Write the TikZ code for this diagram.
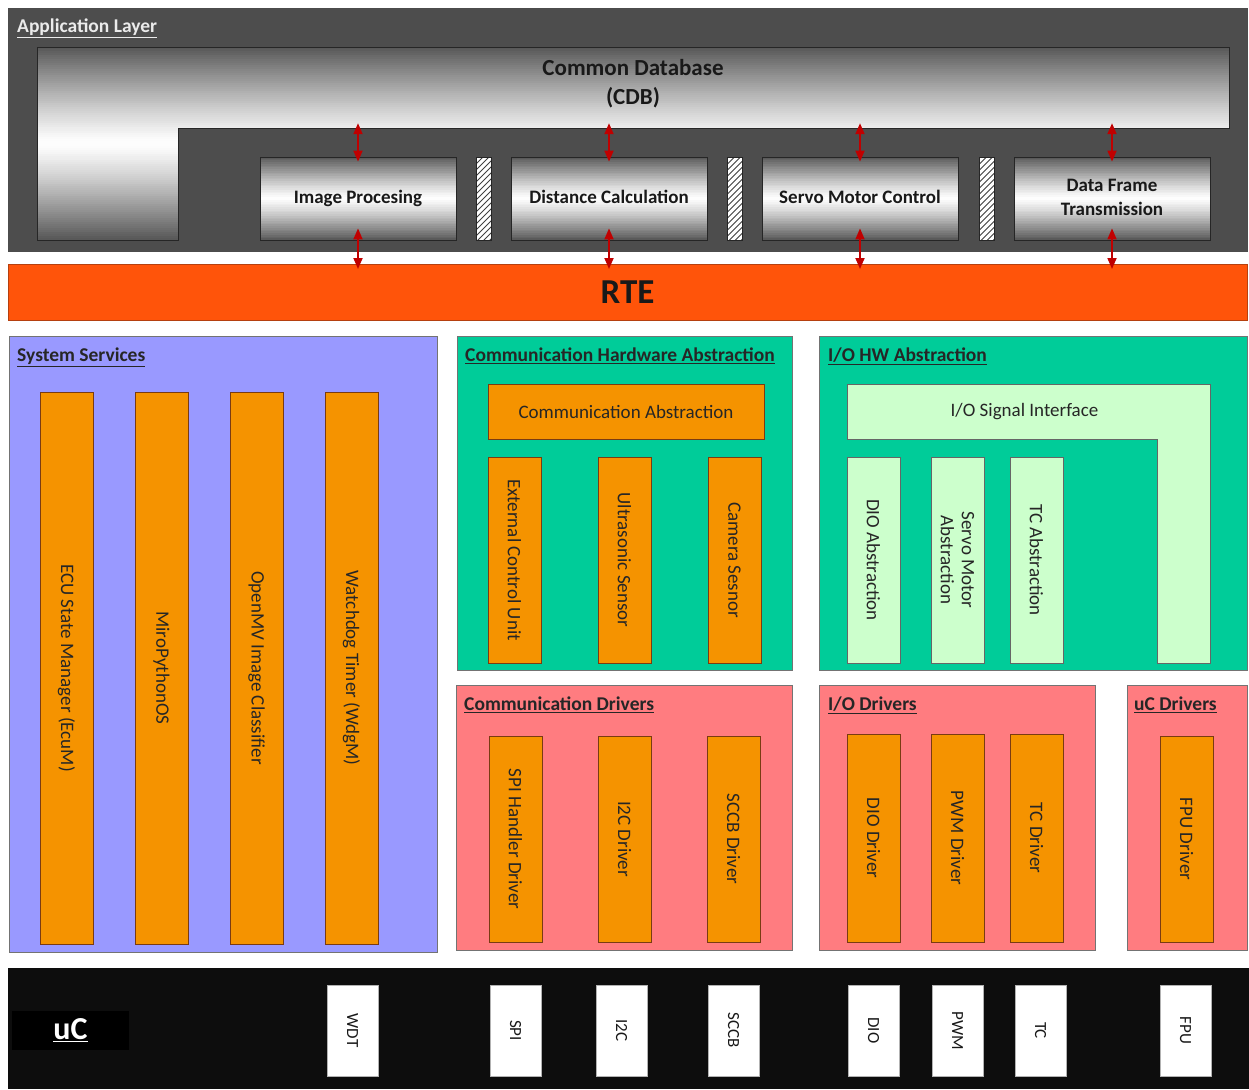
\documentclass[tikz,border=0pt]{standalone}
\usepackage{fontspec}
\setmainfont{Carlito}
\usetikzlibrary{positioning,fit,calc,arrows.meta}

\definecolor{appgray}{HTML}{4D4D4D}
\definecolor{shadegray}{HTML}{575757}
\definecolor{rteorange}{HTML}{FF540A}
\definecolor{rteedge}{HTML}{B5400F}
\definecolor{sysblue}{HTML}{9999FF}
\definecolor{hwteal}{HTML}{00CC99}
\definecolor{drvpink}{HTML}{FF7C80}
\definecolor{barorange}{HTML}{F59300}
\definecolor{baredge}{HTML}{7A3B12}
\definecolor{lightgreen}{HTML}{CCFFCC}
\definecolor{arrowred}{HTML}{C00000}
\definecolor{mcublack}{HTML}{0D0D0D}

\begin{document}
\begin{tikzpicture}[x=1pt,y=-1pt,
  layer/.style={draw=black!55,line width=0.8pt,inner sep=0pt,outer sep=0pt},
  title/.style={anchor=north west,inner sep=0pt,font=\fontsize{19.5}{22}\selectfont\bfseries,text=black!85},
  % gray-white-gray gradient, painted in stripes
  chrome/.style={path picture={
    \foreach \i in {0,...,47}{
      \pgfmathtruncatemacro{\p}{100*(1-abs(2*(\i+0.5)/48-1)^1.2)}
      \fill[white!\p!shadegray]
        ($(path picture bounding box.north west)!{\i/48}!(path picture bounding box.south west)$) rectangle
        ($(path picture bounding box.north east)!{(\i+1.4)/48}!(path picture bounding box.south east)$);
    }}},
  appbox/.style={chrome,draw=black!85,line width=0.8pt,
    minimum width=196pt,minimum height=83pt,inner sep=0pt,align=center,
    execute at begin node=\vphantom{lgy},
    font=\fontsize{19}{24}\selectfont\bfseries,text=black!90},
  hatch/.style={draw=black!85,fill=white,minimum width=15pt,minimum height=83pt,inner sep=0pt,
    path picture={
      \foreach \k in {-30,-24,...,100}
        \draw[black!75,line width=0.9pt] ([xshift=-10pt,yshift=\k pt]path picture bounding box.south west) -- ++(40pt,40pt);
    }},
  link/.style={{Triangle[width=9pt,length=11pt]}-{Triangle[width=9pt,length=11pt]},draw=arrowred,
    line width=1.8pt,shorten <=-5pt,shorten >=-5pt},
  bar/.style={draw=baredge,fill=barorange,line width=0.8pt,rotate=-90,minimum width=#1,minimum height=53pt,
    inner sep=0pt,align=center,font=\fontsize{19}{21}\selectfont,text=black!85},
  lightbar/.style={bar=#1,draw=black!60,fill=lightgreen},
  periph/.style={draw=black!30,fill=white,rotate=-90,minimum width=91pt,minimum height=51pt,inner sep=0pt,
    font=\fontsize{17}{20}\selectfont,text=black!90}]

  \useasboundingbox (0,0) rectangle (1249,1089);

  % Application layer
  \node[layer,fill=appgray,draw=black!70,fit={(8,8) (1247,251)}] (app) {};
  \node[title,text=white!92!black,below right=11pt and 9pt of app.north west] (app-title) {\underline{Application Layer}};
  \begin{scope}
    \clip (37,47) -- (1229,47) -- (1229,128) -- (178,128) -- (178,240) -- (37,240) -- cycle;
    \foreach \i in {0,...,95}
    {
      \pgfmathtruncatemacro{\p}{100*(1-abs(2*(\i+0.5)/96-1)^1.2)}
      \fill[white!\p!shadegray] (37,47+\i*2.0104) rectangle (1229,47+\i*2.0104+3);
    }
  \end{scope}
  \draw[draw=black!85,line width=0.8pt]
    (37,47) -- (1229,47) -- (1229,128) -- (178,128) -- (178,240) -- (37,240) -- cycle;
  \node[inner sep=0pt,fit={(37,47) (1229,128)}] (cdb) {};
  \node[align=center,inner sep=0pt,font=\fontsize{23}{29}\selectfont\bfseries,text=black!90]
    (cdb-text) at ([yshift=4pt]cdb.center) {Common Database\\(CDB)};
  \foreach \cx/\name/\txt in {358/imgproc/Image Procesing,609/distcalc/Distance Calculation,
    860/servoctl/Servo Motor Control,1112/dataframe/{Data Frame\\Transmission}}
    \node[appbox] (\name) at (\cx,198.5) {\txt};
  \foreach \cx/\name in {483.5/gap1,735/gap2,987/gap3}
    \node[hatch] (\name) at (\cx,198.5) {};

  % RTE
  \node[layer,fill=rteorange,draw=rteedge,minimum width=1239pt,minimum height=56pt,
    font=\fontsize{35}{40}\selectfont\bfseries,text=black!90] (rte) at (627.5,292) {RTE};

  % The arrows
  \foreach \name in {imgproc,distcalc,servoctl,dataframe}
  {
    \draw[link] (\name.north |- cdb.south) -- (\name.north);
    \draw[link,shorten <=-12pt] (\name.south) -- (\name.south |- rte.north);
  }

  % System services
  \node[layer,fill=sysblue,fit={(9,336) (437,952)}] (sys) {};
  \node[title,below right=12pt and 8pt of sys.north west] (sys-title) {\underline{System Services}};
  \foreach \cx/\name/\txt in {66.5/ecum/ECU State Manager (EcuM),161.5/miropy/MiroPythonOS,
    256.5/openmv/OpenMV Image Classifier,351.5/wdgm/Watchdog Timer (WdgM)}
    \node[bar=552pt] (\name) at (\cx,668) {\txt};

  % Communication hardware abstraction
  \node[layer,fill=hwteal,fit={(457,336) (792,670)}] (comhw) {};
  \node[title,below right=12pt and 8pt of comhw.north west] (comhw-title) {\underline{Communication Hardware Abstraction}};
  \node[draw=baredge,fill=barorange,line width=0.8pt,minimum width=276pt,minimum height=55pt,
    font=\fontsize{19}{21}\selectfont,text=black!85] (comabs) at (626,411.5) {Communication Abstraction};
  \foreach \cx/\name/\txt in {514.5/extecu/External Control Unit,624.5/ultra/Ultrasonic Sensor,
    734.5/camera/Camera Sesnor}
    \node[bar=206pt] (\name) at (\cx,560) {\txt};

  % I/O hardware abstraction
  \node[layer,fill=hwteal,fit={(819,336) (1247,670)}] (iohw) {};
  \node[title,below right=12pt and 9pt of iohw.north west] (iohw-title) {\underline{I/O HW Abstraction}};
  \filldraw[fill=lightgreen,draw=black!60,line width=0.8pt]
    (847,384) -- (1210,384) -- (1210,663) -- (1157,663) -- (1157,439) -- (847,439) -- cycle;
  \node[inner sep=0pt,fit={(847,384) (1210,439)}] (iosig) {};
  \node[font=\fontsize{19}{21}\selectfont,text=black!85] (iosig-text) at ([xshift=-4pt]iosig.center) {I/O Signal Interface};
  \foreach \cx/\name/\txt in {873.5/dioabs/DIO Abstraction,957.5/servoabs/{Servo Motor\\Abstraction},
    1036.5/tcabs/TC Abstraction}
    \node[lightbar=206pt] (\name) at (\cx,560) {\txt};

  % Drivers
  \node[layer,fill=drvpink,fit={(456,685) (792,950)}] (comdrv) {};
  \node[title,below right=12pt and 8pt of comdrv.north west] (comdrv-title) {\underline{Communication Drivers}};
  \foreach \cx/\name/\txt in {515.5/spidrv/SPI Handler Driver,624.5/i2cdrv/I2C Driver,733.5/sccbdrv/SCCB Driver}
    \node[bar=206pt] (\name) at (\cx,839) {\txt};

  \node[layer,fill=drvpink,fit={(819,685) (1095,950)}] (iodrv) {};
  \node[title,below right=12pt and 9pt of iodrv.north west] (iodrv-title) {\underline{I/O Drivers}};
  \foreach \cx/\name/\txt in {873.5/diodrv/DIO Driver,957.5/pwmdrv/PWM Driver,1036.5/tcdrv/TC Driver}
    \node[bar=208pt] (\name) at (\cx,838) {\txt};

  \node[layer,fill=drvpink,fit={(1127,685) (1247,950)}] (ucdrv) {};
  \node[title,below right=12pt and 7pt of ucdrv.north west] (ucdrv-title) {\underline{uC Drivers}};
  \node[bar=206pt] (fpudrv) at (1186.5,839) {FPU Driver};

  % The microcontroller
  \node[fill=mcublack,inner sep=0pt,fit={(8,968) (1249,1089)}] (mcu) {};
  \node[fill=black,minimum width=117pt,minimum height=39pt,inner sep=0pt,
    font=\fontsize{32}{36}\selectfont\bfseries,text=white] (mcu-label) at (70.5,1030.5) {\underline{uC}};
  \foreach \cx/\name/\txt in {352.5/wdt/WDT,515.5/spiper/SPI,621.5/i2cper/I2C,733.5/sccbper/SCCB,
    873.5/dioper/DIO,957.5/pwmper/PWM,1040.5/tcper/TC,1185.5/fpuper/FPU}
    \node[periph] (\name) at (\cx,1030.5) {\txt};
\end{tikzpicture}
\end{document}
